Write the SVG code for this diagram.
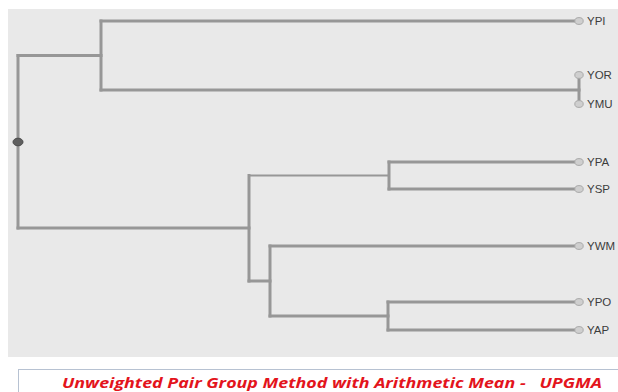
<svg xmlns="http://www.w3.org/2000/svg" width="618" height="392" viewBox="0 0 618 392">
  <style>
    .branch { fill: none; stroke: #979797; stroke-width: 3; stroke-linecap: square; }
    .thin { stroke-width: 2; }
    .leaf-dot { fill: #cfcfcf; stroke: #a9a9a9; stroke-width: 1; }
    .root-dot { fill: #5f5f5f; stroke: #4a4a4a; stroke-width: 1; }
    .label { font-family: "Liberation Sans", Arial, sans-serif; font-size: 10px; fill: #3c3c3c; }
    .title { font-family: "Open Sans", "Liberation Sans", sans-serif; font-size: 13.5px; font-weight: bold; font-style: italic; fill: #e3141c; }
  </style>

  <!-- page and plot panel -->
  <rect x="0" y="0" width="618" height="392" fill="#ffffff"/>
  <rect x="8" y="9" width="612" height="348" fill="#e9e9e9"/>

  <!-- dendrogram branches -->
  <g id="connectors">
    <!-- root -->
    <path class="branch" d="M18 55.5 V228"/>
    <path class="branch" d="M18 55.5 H101"/>
    <path class="branch" d="M18 228 H249"/>
    <!-- YPI + (YOR, YMU) -->
    <path class="branch" d="M101 21 V90"/>
    <path class="branch" d="M101 21 H576"/>
    <path class="branch" d="M101 90 H579"/>
    <path class="branch" d="M579 75 V104"/>
    <!-- lower clade -->
    <path class="branch" d="M249 175.5 V281"/>
    <path class="branch thin" d="M249 175.5 H389"/>
    <path class="branch" d="M249 281 H270"/>
    <!-- (YPA, YSP) -->
    <path class="branch" d="M389 162 V189"/>
    <path class="branch" d="M389 162 H576"/>
    <path class="branch" d="M389 189 H576"/>
    <!-- YWM + (YPO, YAP) -->
    <path class="branch" d="M270 246 V316"/>
    <path class="branch" d="M270 246 H576"/>
    <path class="branch" d="M270 316 H388"/>
    <path class="branch" d="M388 302 V330"/>
    <path class="branch" d="M388 302 H576"/>
    <path class="branch" d="M388 330 H576"/>
  </g>

  <!-- root marker -->
  <g id="root">
    <ellipse class="root-dot" cx="18" cy="142" rx="5" ry="3.8"/>
  </g>

  <!-- leaves -->
  <g id="leaf-YPI">
    <ellipse class="leaf-dot" cx="579" cy="21" rx="4.2" ry="3.4"/>
    <text class="label" transform="translate(587 24.6) scale(1.15 1)">YPI</text>
  </g>
  <g id="leaf-YOR">
    <ellipse class="leaf-dot" cx="579" cy="75" rx="4.2" ry="3.4"/>
    <text class="label" transform="translate(587 78.6) scale(1.15 1)">YOR</text>
  </g>
  <g id="leaf-YMU">
    <ellipse class="leaf-dot" cx="579" cy="104" rx="4.2" ry="3.4"/>
    <text class="label" transform="translate(587 107.6) scale(1.15 1)">YMU</text>
  </g>
  <g id="leaf-YPA">
    <ellipse class="leaf-dot" cx="579" cy="162" rx="4.2" ry="3.4"/>
    <text class="label" transform="translate(587 165.6) scale(1.15 1)">YPA</text>
  </g>
  <g id="leaf-YSP">
    <ellipse class="leaf-dot" cx="579" cy="189" rx="4.2" ry="3.4"/>
    <text class="label" transform="translate(587 192.6) scale(1.15 1)">YSP</text>
  </g>
  <g id="leaf-YWM">
    <ellipse class="leaf-dot" cx="579" cy="246" rx="4.2" ry="3.4"/>
    <text class="label" transform="translate(587 249.6) scale(1.15 1)">YWM</text>
  </g>
  <g id="leaf-YPO">
    <ellipse class="leaf-dot" cx="579" cy="302" rx="4.2" ry="3.4"/>
    <text class="label" transform="translate(587 305.6) scale(1.15 1)">YPO</text>
  </g>
  <g id="leaf-YAP">
    <ellipse class="leaf-dot" cx="579" cy="330" rx="4.2" ry="3.4"/>
    <text class="label" transform="translate(587 333.6) scale(1.15 1)">YAP</text>
  </g>

  <!-- caption box -->
  <g id="caption">
    <rect x="18.5" y="369.5" width="610" height="40" fill="#ffffff" stroke="#b7c2d2" stroke-width="1"/>
    <text class="title" x="62" y="388" textLength="540" lengthAdjust="spacingAndGlyphs" xml:space="preserve">Unweighted Pair Group Method with Arithmetic Mean -   UPGMA</text>
  </g>
</svg>
